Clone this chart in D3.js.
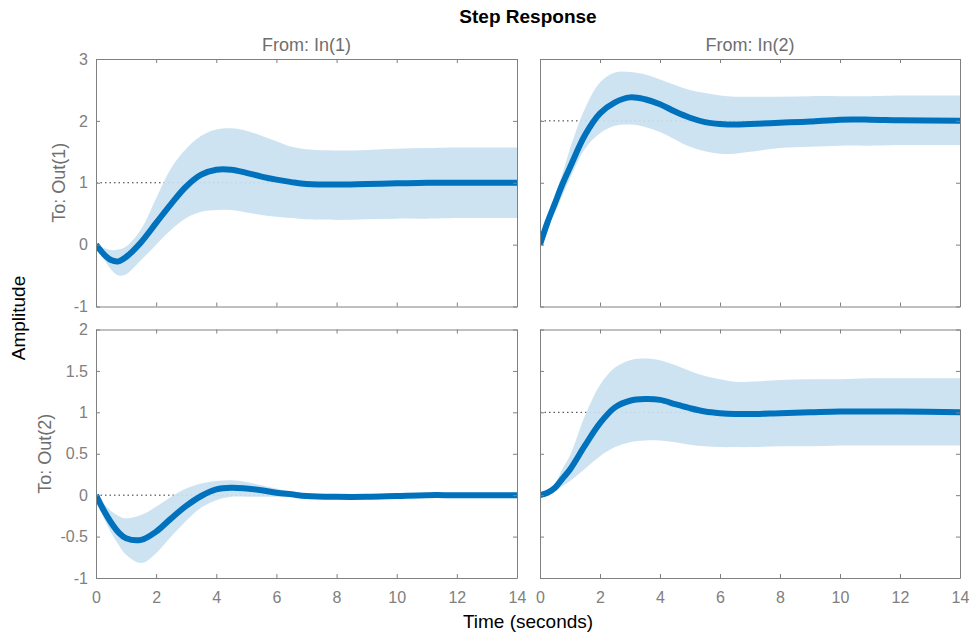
<!DOCTYPE html>
<html>
<head>
<meta charset="utf-8">
<script src="https://cdn.jsdelivr.net/npm/d3@7"></script>
<style>
  body { margin: 0; background: #fff; }
  text { font-family: "Liberation Sans", Arial, sans-serif; }
</style>
</head>
<body>
<script>
// step response samples
const timeGrid = [0, 0.25, 0.5, 0.75, 1, 1.5, 2, 2.5, 3, 3.5, 4, 4.5, 5, 5.5, 6, 6.5, 7, 8, 9, 10, 11, 12, 14]

const out1In1      = [0, -0.15, -0.25, -0.27, -0.2, 0.04, 0.35, 0.66, 0.94, 1.13, 1.21, 1.21, 1.16, 1.1, 1.05, 1.01, 0.98, 0.97, 0.98, 0.99, 1.0, 1.0, 1.0]
const out1In1Upper = [0, -0.05, -0.09, -0.08, -0.03, 0.25, 0.75, 1.24, 1.55, 1.76, 1.86, 1.88, 1.84, 1.76, 1.67, 1.58, 1.54, 1.52, 1.53, 1.55, 1.56, 1.57, 1.57]
const out1In1Lower = [0, -0.22, -0.4, -0.5, -0.48, -0.25, 0.0, 0.24, 0.43, 0.53, 0.56, 0.56, 0.52, 0.48, 0.45, 0.43, 0.41, 0.4, 0.41, 0.42, 0.42, 0.43, 0.43]

const out1In2      = [0, 0.36, 0.67, 0.98, 1.25, 1.77, 2.12, 2.3, 2.38, 2.35, 2.27, 2.15, 2.05, 1.98, 1.95, 1.94, 1.95, 1.97, 1.99, 2.02, 2.02, 2.01, 2.0]
const out1In2Upper = [0.02, 0.42, 0.8, 1.15, 1.55, 2.2, 2.62, 2.78, 2.79, 2.75, 2.67, 2.58, 2.5, 2.45, 2.41, 2.39, 2.39, 2.39, 2.4, 2.4, 2.4, 2.41, 2.41]
const out1In2Lower = [0, 0.28, 0.52, 0.8, 1.07, 1.55, 1.8, 1.92, 1.94, 1.9, 1.82, 1.7, 1.58, 1.51, 1.47, 1.47, 1.5, 1.56, 1.58, 1.6, 1.6, 1.61, 1.61]

const out2In1      = [0, -0.18, -0.33, -0.45, -0.52, -0.54, -0.44, -0.28, -0.13, -0.01, 0.07, 0.09, 0.08, 0.06, 0.03, 0.01, -0.01, -0.02, -0.02, -0.01, 0, 0, 0]
const out2In1Upper = [0, -0.1, -0.19, -0.25, -0.28, -0.24, -0.14, -0.02, 0.08, 0.14, 0.17, 0.18, 0.16, 0.12, 0.08, 0.04, 0.02, 0.01, 0.01, 0.01, 0.01, 0.01, 0.01]
const out2In1Lower = [0, -0.27, -0.45, -0.6, -0.72, -0.82, -0.7, -0.5, -0.31, -0.15, -0.06, -0.02, -0.02, -0.02, -0.02, -0.02, -0.03, -0.03, -0.02, -0.02, -0.01, -0.01, -0.01]

const out2In2      = [0, 0.03, 0.09, 0.2, 0.31, 0.6, 0.87, 1.06, 1.14, 1.16, 1.15, 1.1, 1.05, 1.01, 0.99, 0.98, 0.98, 0.99, 1.0, 1.01, 1.01, 1.01, 1.0]
const out2In2Upper = [0, 0.05, 0.14, 0.32, 0.48, 0.96, 1.33, 1.54, 1.63, 1.65, 1.63, 1.57, 1.5, 1.44, 1.4, 1.37, 1.37, 1.39, 1.4, 1.4, 1.41, 1.41, 1.41]
const out2In2Lower = [0, 0.02, 0.05, 0.11, 0.17, 0.32, 0.47, 0.58, 0.64, 0.66, 0.66, 0.64, 0.61, 0.59, 0.58, 0.58, 0.58, 0.59, 0.59, 0.6, 0.6, 0.6, 0.6]

const finalValues = [1, 2, 0, 1]

const inputNames = ['From: In(1)', 'From: In(2)']
const outputNames = ['To: Out(1)', 'To: Out(2)']
const timeTicks = [0, 2, 4, 6, 8, 10, 12, 14]
const ampTicksTop = [-1, 0, 1, 2, 3]
const ampTicksBottom = [-1, -0.5, 0, 0.5, 1, 1.5, 2]

const width = 971
const height = 637
const cols = [[96, 517], [540, 960]]
const rows = [[59, 306.5], [329.5, 578]]
const rowLabelX = [65, 51]
const gray = '#808080'
const blue = '#0072bd'
const band = '#c9e1f1'

const panels = [
    { row: 0, col: 0, y: out1In1, hi: out1In1Upper, lo: out1In1Lower, fin: finalValues[0] },
    { row: 0, col: 1, y: out1In2, hi: out1In2Upper, lo: out1In2Lower, fin: finalValues[1] },
    { row: 1, col: 0, y: out2In1, hi: out2In1Upper, lo: out2In1Lower, fin: finalValues[2] },
    { row: 1, col: 1, y: out2In2, hi: out2In2Upper, lo: out2In2Lower, fin: finalValues[3] }
]

const svg = d3.select('body')
    .append('svg')
    .attr('width', width)
    .attr('height', height)

panels.forEach((p, i) => {
    const x = d3.scaleLinear().domain([0, 14]).range(cols[p.col])
    const yTicks = p.row === 0 ? ampTicksTop : ampTicksBottom
    const y = d3.scaleLinear().domain(d3.extent(yTicks)).range([rows[p.row][1], rows[p.row][0]])

    const g = svg.append('g')

    g.append('clipPath').attr('id', 'clip' + i)
        .append('rect')
        .attr('x', cols[p.col][0]).attr('y', rows[p.row][0])
        .attr('width', cols[p.col][1] - cols[p.col][0])
        .attr('height', rows[p.row][1] - rows[p.row][0])

    const plot = g.append('g').attr('clip-path', `url(#clip${i})`)

    // steady-state dotted line
    plot.append('line')
        .attr('x1', x(0)).attr('x2', x(14))
        .attr('y1', y(p.fin)).attr('y2', y(p.fin))
        .attr('stroke', '#333')
        .attr('stroke-width', 1)
        .attr('stroke-dasharray', '1.5,3')

    const pts = timeGrid.map((t, k) => ({ t, v: p.y[k], hi: p.hi[k], lo: p.lo[k] }))
    const curve = d3.curveCatmullRom.alpha(0.5)

    plot.append('path')
        .datum(pts)
        .attr('fill', band)
        .attr('fill-opacity', 0.92)
        .attr('d', d3.area()
            .x(d => x(d.t))
            .y0(d => y(d.lo))
            .y1(d => y(d.hi))
            .curve(curve))

    plot.append('path')
        .datum(pts)
        .attr('fill', 'none')
        .attr('stroke', blue)
        .attr('stroke-width', 6)
        .attr('d', d3.line()
            .x(d => x(d.t))
            .y(d => y(d.v))
            .curve(curve))

    // box with inward ticks on all sides
    const fmt = d => String(d)
    g.append('g')
        .attr('transform', `translate(0,${rows[p.row][1]})`)
        .call(d3.axisBottom(x).tickValues(timeTicks).tickSizeInner(-4).tickSizeOuter(0)
            .tickPadding(14).tickFormat(p.row === 1 ? fmt : ''))
    g.append('g')
        .attr('transform', `translate(0,${rows[p.row][0]})`)
        .call(d3.axisTop(x).tickValues(timeTicks).tickSizeInner(-4).tickSizeOuter(0).tickFormat(''))
    g.append('g')
        .attr('transform', `translate(${cols[p.col][0]},0)`)
        .call(d3.axisLeft(y).tickValues(yTicks).tickSizeInner(-4).tickSizeOuter(0)
            .tickPadding(8).tickFormat(p.col === 0 ? fmt : ''))
    g.append('g')
        .attr('transform', `translate(${cols[p.col][1]},0)`)
        .call(d3.axisRight(y).tickValues(yTicks).tickSizeInner(-4).tickSizeOuter(0).tickFormat(''))

    g.selectAll('.domain, .tick line').attr('stroke', gray)
    g.selectAll('.tick text')
        .attr('fill', gray)
        .style('font-size', '16px')
        .style('font-family', '"Liberation Sans", Arial, sans-serif')
})

// labels
svg.append('text')
    .attr('x', 528).attr('y', 23)
    .attr('text-anchor', 'middle')
    .style('font-size', '19px')
    .style('font-weight', 'bold')
    .text('Step Response')

inputNames.forEach((name, c) => {
    svg.append('text')
        .attr('x', (cols[c][0] + cols[c][1]) / 2).attr('y', 51)
        .attr('text-anchor', 'middle')
        .attr('fill', '#6e6e6e')
        .style('font-size', '18px')
        .text(name)
})

outputNames.forEach((name, r) => {
    const cy = (rows[r][0] + rows[r][1]) / 2
    svg.append('text')
        .attr('transform', `translate(${rowLabelX[r]},${cy}) rotate(-90)`)
        .attr('text-anchor', 'middle')
        .attr('fill', '#6e6e6e')
        .style('font-size', '18px')
        .text(name)
})

svg.append('text')
    .attr('transform', 'translate(25,318) rotate(-90)')
    .attr('text-anchor', 'middle')
    .style('font-size', '19px')
    .text('Amplitude')

svg.append('text')
    .attr('x', 528).attr('y', 628)
    .attr('text-anchor', 'middle')
    .style('font-size', '19px')
    .text('Time (seconds)')
</script>
</body>
</html>
